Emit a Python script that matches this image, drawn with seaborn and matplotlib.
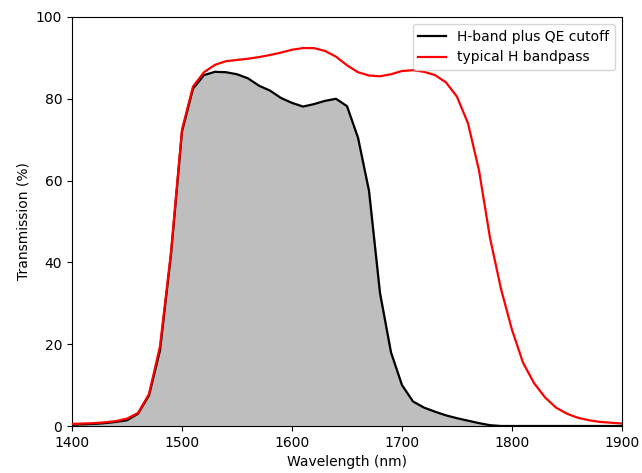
import numpy as np
import pandas as pd
import matplotlib
matplotlib.use("Agg")
import matplotlib.pyplot as plt
import seaborn as sns

wavelength = list(range(1400, 1901, 10))

qe_cutoff = [0.3, 0.4, 0.5, 0.7, 1.0, 1.4, 3.0, 7.5, 18.5, 42.0,
             72.0, 82.5, 85.8, 86.6, 86.5, 86.0, 85.0, 83.2, 82.0, 80.2,
             79.0, 78.1, 78.7, 79.5, 80.0, 78.2, 70.5, 57.5, 32.5, 18.0,
             10.0, 6.0, 4.5, 3.5, 2.6, 1.9, 1.3, 0.7, 0.2, 0.0,
             0.0, 0.0, 0.0, 0.0, 0.0, 0.0, 0.0, 0.0, 0.0, 0.0, 0.0]

h_bandpass = [0.5, 0.6, 0.7, 0.9, 1.2, 1.8, 3.2, 7.8, 19.5, 42.5,
              72.5, 83.0, 86.5, 88.3, 89.2, 89.5, 89.8, 90.2, 90.7, 91.3,
              92.0, 92.4, 92.4, 91.7, 90.3, 88.2, 86.5, 85.7, 85.5, 86.0,
              86.8, 87.0, 86.6, 85.8, 84.0, 80.5, 74.0, 62.5, 46.0, 33.5,
              23.5, 15.5, 10.5, 7.0, 4.5, 3.0, 2.0, 1.4, 1.0, 0.8, 0.6]

df = pd.DataFrame({"wl": wavelength, "qe": qe_cutoff, "hb": h_bandpass})

fig = plt.figure(figsize=(6.42, 4.73), dpi=100)
ax = fig.add_axes([72/642, 47/473, 550/642, 409/473])

ax.fill_between(df["wl"], df["qe"], 0, color="#bebebe", zorder=1)
sns.lineplot(data=df, x="wl", y="qe", ax=ax, color="black", linewidth=1.6,
             label="H-band plus QE cutoff", zorder=2)
sns.lineplot(data=df, x="wl", y="hb", ax=ax, color="red", linewidth=1.6,
             label="typical H bandpass", zorder=3)

ax.set_xlim(1400, 1900)
ax.set_ylim(0, 100)
ax.set_xticks([1400, 1500, 1600, 1700, 1800, 1900])
ax.set_yticks([0, 20, 40, 60, 80, 100])
ax.set_xlabel("Wavelength (nm)")
ax.set_ylabel("Transmission (%)")
ax.legend(loc="upper right")

fig.savefig("out.png", dpi=100)
